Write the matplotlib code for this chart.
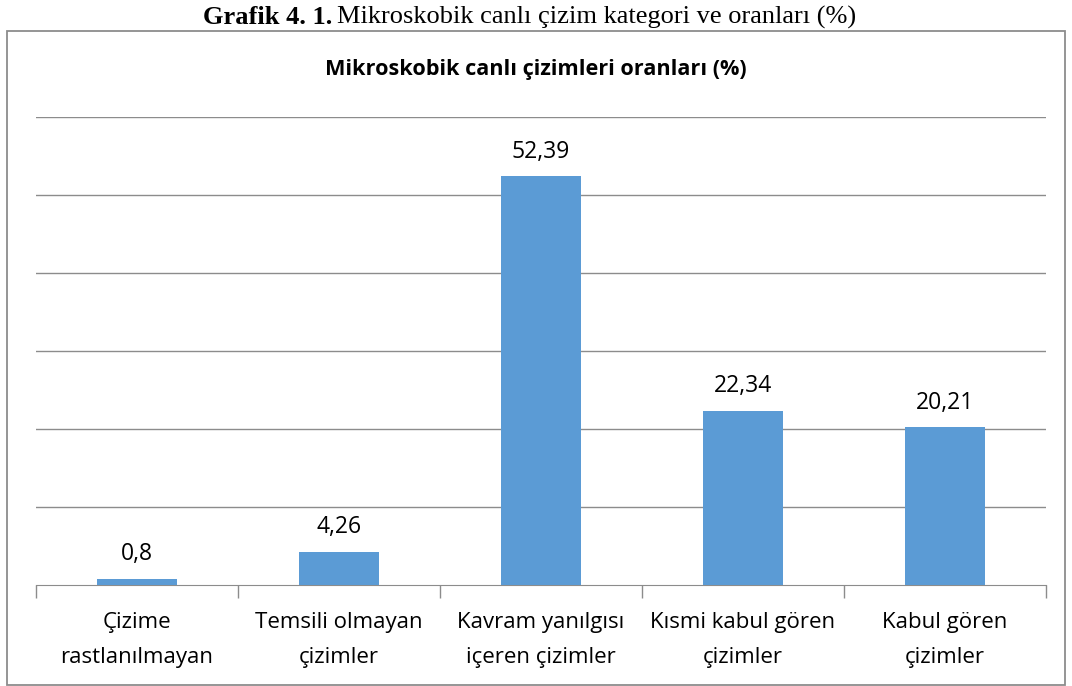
import matplotlib
matplotlib.use('Agg')
import matplotlib.pyplot as plt
from matplotlib.patches import Rectangle

# Chart data
categories = ['Çizime\nrastlanılmayan', 'Temsili olmayan\nçizimler',
              'Kavram yanılgısı\niçeren çizimler', 'Kısmi kabul gören\nçizimler',
              'Kabul gören\nçizimler']
values = [0.8, 4.26, 52.39, 22.34, 20.21]
value_labels = ['0,8', '4,26', '52,39', '22,34', '20,21']

W, H = 1072, 686
bar_col = '#5B9BD5'
grid_col = '#8C8C8C'
font = ['Open Sans', 'DejaVu Sans']

fig = plt.figure(figsize=(W/100, H/100), dpi=100)
fig.patch.set_facecolor('white')

# outer chart frame
fig.patches.append(Rectangle((7/W, 1 - 685/H), (1065-7)/W, (685-31)/H,
                             transform=fig.transFigure, fill=False,
                             edgecolor='#8C8C8C', lw=1.3))

ax = fig.add_axes([36/W, 1 - 585/H, (1046-36)/W, (585-117)/H])
x = range(len(categories))
ax.bar(x, values, width=0.4, color=bar_col, zorder=3)
ax.set_xlim(-0.5, len(categories) - 0.5)
ax.set_ylim(0, 60)
ax.set_yticks([10, 20, 30, 40, 50, 60])
ax.yaxis.grid(True, color=grid_col, lw=1)
ax.tick_params(axis='y', left=False, labelleft=False)
for s in ['top', 'right', 'left']:
    ax.spines[s].set_visible(False)
ax.spines['bottom'].set_color(grid_col)

# category boundaries as tick marks, labels centered under bars
ax.set_xticks([i - 0.5 for i in range(len(categories) + 1)])
ax.set_xticklabels([])
ax.tick_params(axis='x', length=9, color=grid_col, width=1)
for i, c in enumerate(categories):
    ax.text(i, -3.45, c, ha='center', va='top', fontsize=16,
            family=font, linespacing=1.85)

for i, (v, t) in enumerate(zip(values, value_labels)):
    ax.text(i, v + 1.6, t, ha='center', va='bottom', fontsize=16.5, family=font)

fig.text(0.5, 1 - 69/H, 'Mikroskobik canlı çizimleri oranları (%)', ha='center',
         va='center', fontsize=15.6, fontweight='bold', family=font)

# caption above the frame
fig.text(203/W, 1 - 17/H, 'Grafik 4. 1.', ha='left', va='center', fontsize=19,
         fontweight='bold', family='Liberation Serif')
fig.text(337/W, 1 - 17/H, 'Mikroskobik canlı çizim kategori ve oranları (%)',
         ha='left', va='center', fontsize=19, family='Liberation Serif')

fig.savefig('out.png', dpi=100)
